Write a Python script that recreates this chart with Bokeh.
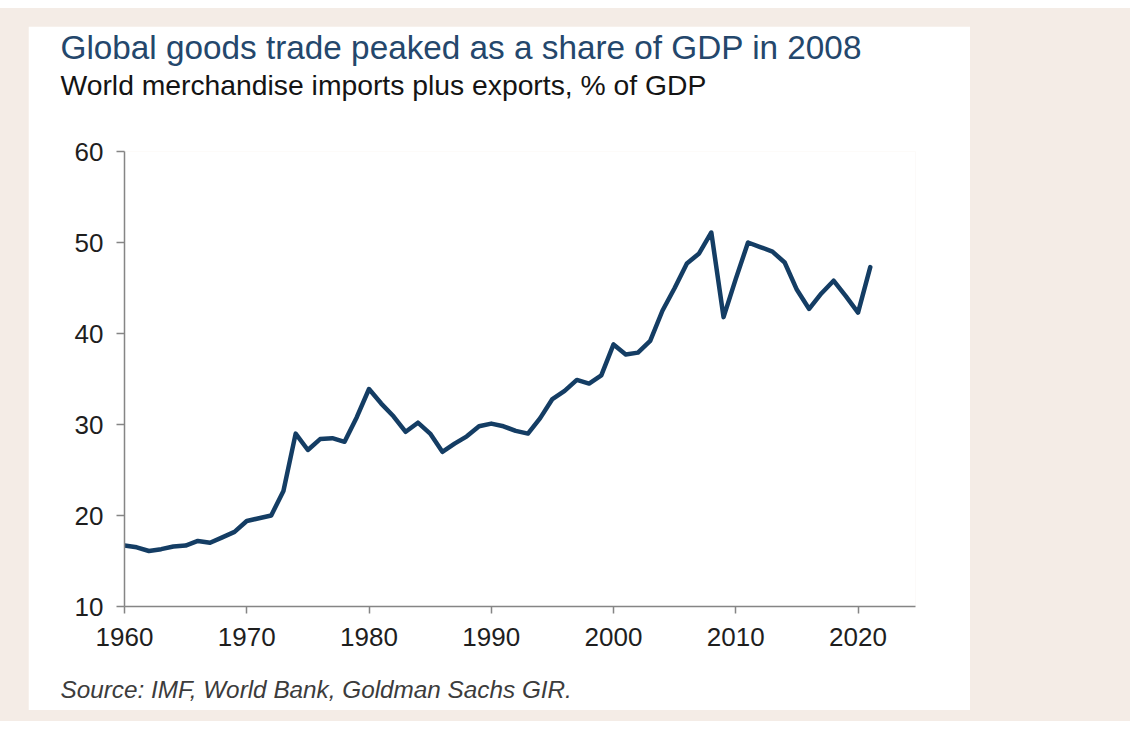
from bokeh.plotting import figure
from bokeh.models import Range1d, FixedTicker, Spacer, Title
from bokeh.layouts import column, row
from bokeh.embed import file_html
from bokeh.resources import INLINE

# ---- data ----
years = [1960, 1961, 1962, 1963, 1964, 1965, 1966, 1967, 1968, 1969,
         1970, 1971, 1972, 1973, 1974, 1975, 1976, 1977, 1978, 1979,
         1980, 1981, 1982, 1983, 1984, 1985, 1986, 1987, 1988, 1989,
         1990, 1991, 1992, 1993, 1994, 1995, 1996, 1997, 1998, 1999,
         2000, 2001, 2002, 2003, 2004, 2005, 2006, 2007, 2008, 2009,
         2010, 2011, 2012, 2013, 2014, 2015, 2016, 2017, 2018, 2019,
         2020, 2021]
trade_share = [16.7, 16.5, 16.1, 16.3, 16.6, 16.7, 17.2, 17.0, 17.6, 18.2,
               19.4, 19.7, 20.0, 22.7, 29.0, 27.2, 28.4, 28.5, 28.1, 30.8,
               33.9, 32.3, 30.9, 29.2, 30.2, 29.0, 27.0, 27.9, 28.7, 29.8,
               30.1, 29.8, 29.3, 29.0, 30.7, 32.8, 33.7, 34.9, 34.5, 35.4,
               38.8, 37.7, 37.9, 39.2, 42.5, 45.0, 47.7, 48.8, 51.1, 41.8,
               46.0, 50.0, 49.5, 49.0, 47.8, 44.8, 42.7, 44.4, 45.8, 44.1,
               42.3, 47.3]
x_ticks = [1960, 1970, 1980, 1990, 2000, 2010, 2020]
y_ticks = [10, 20, 30, 40, 50, 60]

title_text = "Global goods trade peaked as a share of GDP in 2008"
subtitle_text = "World merchandise imports plus exports, % of GDP"
source_text = "Source: IMF, World Bank, Goldman Sachs GIR."

FONT = "Liberation Sans"
LINE_COLOR = "#143d64"
AXIS_COLOR = "#858585"
BEIGE = "#f4ece6"

p = figure(width=942, height=684, output_backend="svg", toolbar_location=None,
           x_range=Range1d(1960, 2024.7), y_range=Range1d(10, 60),
           min_border_left=96, min_border_right=55, min_border_top=125,
           min_border_bottom=104)
p.background_fill_color = "white"
p.border_fill_color = "white"
p.outline_line_color = None
p.grid.grid_line_color = None

p.line(years, trade_share, line_color=LINE_COLOR, line_width=4.5,
       line_join="round", line_cap="round")

xax = p.xaxis[0]
yax = p.yaxis[0]
for ax in (xax, yax):
    ax.axis_line_color = AXIS_COLOR
    ax.axis_line_width = 1.5
    ax.major_tick_line_color = AXIS_COLOR
    ax.major_tick_line_width = 1.5
    ax.major_tick_in = 0
    ax.minor_tick_line_color = None
    ax.major_label_text_font = FONT
    ax.major_label_text_font_size = "26px"
    ax.major_label_text_color = "#1e1e1e"

xax.ticker = FixedTicker(ticks=x_ticks)
yax.ticker = FixedTicker(ticks=y_ticks)
xax.major_tick_out = 7
yax.major_tick_out = 8
xax.major_label_standoff = 14
yax.major_label_standoff = 13


def gap(size):
    # blank title used only to reserve vertical space in a side panel
    return Title(text=" ", text_font_size="1px", standoff=size)


# above: gap (nearest frame), subtitle, title
p.add_layout(gap(48), "above")
p.add_layout(Title(text=subtitle_text, align="left", offset=-64,
                   text_font=FONT, text_font_size="28.3px",
                   text_font_style="normal", text_color="#141414",
                   standoff=0), "above")
p.add_layout(Title(text=title_text, align="left", offset=-64,
                   text_font=FONT, text_font_size="33.3px",
                   text_font_style="normal", text_color="#24476c",
                   standoff=1), "above")

# below: x axis, gap, source
p.add_layout(gap(21), "below")
p.add_layout(Title(text=source_text, align="left", offset=-64,
                   text_font=FONT, text_font_size="24.3px",
                   text_font_style="italic", text_color="#3c3c3c",
                   standoff=2), "below")

beige_block = column(
    Spacer(height=18, width=1130),
    row(Spacer(width=28, height=684), p, Spacer(width=160, height=684)),
    Spacer(height=11, width=1130),
    styles={"background-color": BEIGE},
    spacing=0,
)

layout = column(Spacer(height=8, width=1130), beige_block, spacing=0)

open("out.html", "w").write(file_html(layout, INLINE))
